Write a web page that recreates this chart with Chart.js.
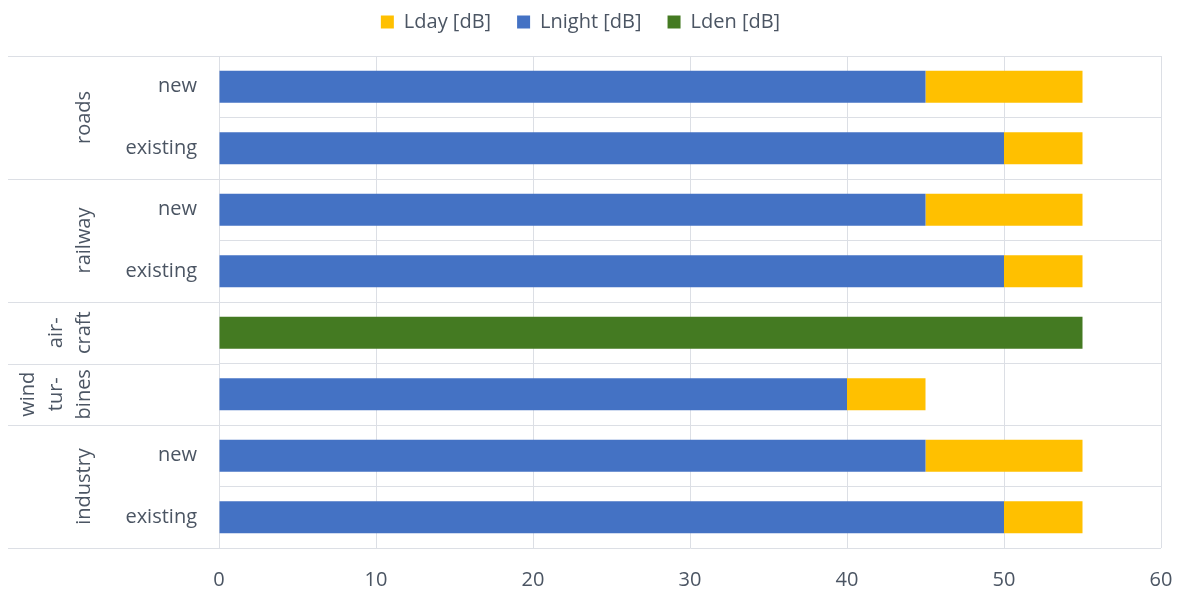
<!DOCTYPE html>
<html>
<head>
<meta charset="utf-8">
<script src="https://cdn.jsdelivr.net/npm/chart.js@4"></script>
<style>
  html, body { margin: 0; padding: 0; background: #fff; }
  #wrap { width: 1186px; height: 591px; }
</style>
</head>
<body>
<div id="wrap"><canvas id="chart"></canvas></div>
<script>
const rowLabels = ['new', 'existing', 'new', 'existing', '', '', 'new', 'existing'];
const groups = [
    { lines: ['roads'], first: 0, last: 1 },
    { lines: ['railway'], first: 2, last: 3 },
    { lines: ['air-', 'craft'], first: 4, last: 4 },
    { lines: ['wind', 'tur-', 'bines'], first: 5, last: 5 },
    { lines: ['industry'], first: 6, last: 7 }
];
const lnight = [45, 50, 45, 50, null, 40, 45, 50];
const lday = [10, 5, 10, 5, null, 5, 10, 5];
const lden = [null, null, null, null, 55, null, null, null];
const xTicks = [0, 10, 20, 30, 40, 50, 60];

const textColor = '#4b5563';
const gridColor = '#dcdfe5';
const font = "'Open Sans', sans-serif";

// group labels on the left and the long separator lines
const groupPlugin = {
    id: 'groups',
    afterDraw(chart){
        const ctx = chart.ctx;
        const y = chart.scales.y;
        const half = (y.getPixelForValue(1) - y.getPixelForValue(0)) / 2;
        ctx.save();
        ctx.strokeStyle = gridColor;
        ctx.lineWidth = 1;
        groups.forEach((g, i) => {
            const top = y.getPixelForValue(g.first) - half;
            const bottom = y.getPixelForValue(g.last) + half;
            ctx.beginPath();
            if(i === 0){
                ctx.moveTo(8, Math.round(top) + 0.5);
                ctx.lineTo(y.right, Math.round(top) + 0.5);
            }
            ctx.moveTo(8, Math.round(bottom) + 0.5);
            ctx.lineTo(y.right, Math.round(bottom) + 0.5);
            ctx.stroke();

            const mid = (top + bottom) / 2;
            ctx.fillStyle = textColor;
            ctx.font = '20px ' + font;
            ctx.textAlign = 'center';
            ctx.textBaseline = 'middle';
            const n = g.lines.length;
            g.lines.forEach((line, j) => {
                ctx.save();
                ctx.translate(84 - (n - 1 - j) * 28, mid);
                ctx.rotate(-Math.PI / 2);
                ctx.fillText(line, 0, 0);
                ctx.restore();
            });
        });
        ctx.restore();
    }
};

const legendRank = [1, 0, 2];

new Chart(document.getElementById('chart'), {
    type: 'bar',
    data: {
        labels: rowLabels,
        datasets: [
            { label: 'Lnight [dB]', data: lnight, backgroundColor: '#4472C4' },
            { label: 'Lday [dB]', data: lday, backgroundColor: '#FFC000' },
            { label: 'Lden [dB]', data: lden, backgroundColor: '#447A22' }
        ]
    },
    options: {
        indexAxis: 'y',
        responsive: true,
        maintainAspectRatio: false,
        animation: false,
        datasets: {
            bar: { categoryPercentage: 1, barPercentage: 0.52, borderWidth: 0 }
        },
        layout: { padding: { left: 0, right: 25, top: -14, bottom: 0 } },
        plugins: {
            tooltip: { enabled: false },
            legend: {
                position: 'top',
                labels: {
                    boxWidth: 13,
                    boxHeight: 13,
                    padding: 26,
                    color: textColor,
                    font: { family: font, size: 20, lineHeight: 1 },
                    sort: (a, b) => legendRank[a.datasetIndex] - legendRank[b.datasetIndex]
                }
            }
        },
        scales: {
            x: {
                stacked: true,
                min: 0,
                max: 60,
                afterBuildTicks(scale){
                    scale.ticks = xTicks.map(v => ({ value: v }));
                },
                afterFit(scale){
                    scale.height = 43;
                    scale.paddingRight = 0;
                    scale.paddingLeft = 0;
                },
                grid: { color: gridColor, drawTicks: false },
                border: { display: false },
                ticks: { color: textColor, padding: 20, font: { family: font, size: 20 } }
            },
            // empty strip under the legend
            gap: {
                type: 'linear',
                position: 'top',
                afterFit(scale){ scale.height = 14; },
                grid: { display: false },
                border: { display: false },
                ticks: { display: false }
            },
            y: {
                stacked: true,
                afterFit(scale){ scale.width = 219; },
                grid: { color: gridColor, drawTicks: false },
                border: { color: gridColor },
                ticks: { color: textColor, padding: 22, font: { family: font, size: 20 } }
            }
        }
    },
    plugins: [groupPlugin]
});
</script>
</body>
</html>
